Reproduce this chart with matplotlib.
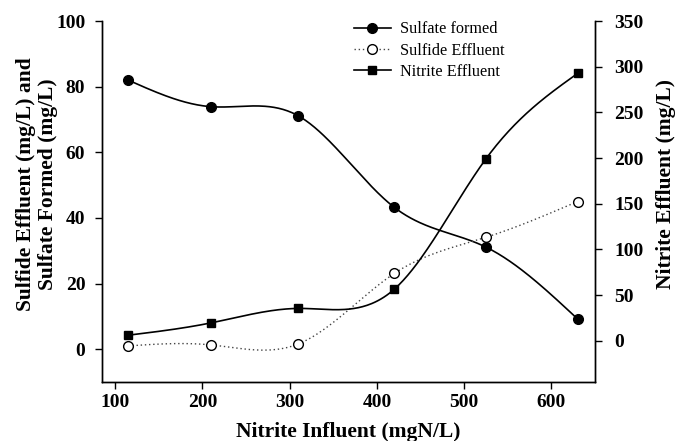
import numpy as np
import matplotlib
matplotlib.use('Agg')
import matplotlib.pyplot as plt

# Nitrite influent levels (mgN/L)
nitrite_influent = [115, 210, 310, 420, 525, 630]

# Left axis series (mg/L)
sulfate_formed = [82.0, 73.9, 71.1, 43.2, 31.1, 9.2]
sulfide_effluent = [1.0, 1.3, 1.6, 23.1, 34.1, 45.0]

# Right axis series (mg/L)
nitrite_effluent = [6.2, 19.7, 35.5, 56.6, 199.3, 292.7]


def natural_spline(x, y, n=300):
    # Natural cubic spline through the points, used to draw smooth connecting lines
    x = np.asarray(x, float)
    y = np.asarray(y, float)
    k = len(x)
    h = np.diff(x)
    A = np.zeros((k, k))
    b = np.zeros(k)
    A[0, 0] = A[-1, -1] = 1.0
    for i in range(1, k - 1):
        A[i, i - 1] = h[i - 1]
        A[i, i] = 2 * (h[i - 1] + h[i])
        A[i, i + 1] = h[i]
        b[i] = 6 * ((y[i + 1] - y[i]) / h[i] - (y[i] - y[i - 1]) / h[i - 1])
    M = np.linalg.solve(A, b)
    xs = np.linspace(x[0], x[-1], n)
    idx = np.clip(np.searchsorted(x, xs) - 1, 0, k - 2)
    x0, x1 = x[idx], x[idx + 1]
    hh = x1 - x0
    t0, t1 = x1 - xs, xs - x0
    ys = (M[idx] * t0 ** 3 + M[idx + 1] * t1 ** 3) / (6 * hh) \
        + (y[idx] / hh - M[idx] * hh / 6) * t0 \
        + (y[idx + 1] / hh - M[idx + 1] * hh / 6) * t1
    return xs, ys


plt.rcParams['font.family'] = 'Liberation Serif'

fig = plt.figure(figsize=(6.77, 4.41), dpi=100)
ax = fig.add_axes([0.1507, 0.1338, 0.7283, 0.8185])
ax2 = ax.twinx()

# Sulfate formed: solid line, filled circles
sx, sy = natural_spline(nitrite_influent, sulfate_formed)
ax.plot(sx, sy, color='black', lw=1.2)
ax.plot(nitrite_influent, sulfate_formed, 'o', color='black', ms=7)

# Sulfide effluent: dotted line, open circles
dx, dy = natural_spline(nitrite_influent, sulfide_effluent)
ax.plot(dx, dy, color='#444444', lw=1.0, ls=(0, (1, 2)))
ax.plot(nitrite_influent, sulfide_effluent, 'o', mfc='white', mec='black',
        mew=1.0, ms=7)

# Nitrite effluent on the secondary axis: solid line, filled squares
nx, ny = natural_spline(nitrite_influent, nitrite_effluent)
ax2.plot(nx, ny, color='black', lw=1.2)
ax2.plot(nitrite_influent, nitrite_effluent, 's', color='black', ms=6)

ax.set_xlim(85, 650)
ax.set_ylim(-10, 100)
ax2.set_ylim(-45, 350)

ax.set_xticks([100, 200, 300, 400, 500, 600])
ax.set_yticks([0, 20, 40, 60, 80, 100])
ax2.set_yticks([0, 50, 100, 150, 200, 250, 300, 350])

for a in (ax, ax2):
    a.spines['top'].set_visible(False)
    for s in a.spines.values():
        s.set_linewidth(1.0)
    a.tick_params(direction='out', length=5, width=1.0, labelsize=14)
    for lbl in a.get_xticklabels() + a.get_yticklabels():
        lbl.set_fontweight('bold')
ax.tick_params(axis='x', pad=4)
ax.tick_params(axis='y', pad=7)
ax2.tick_params(axis='y', pad=9)

ax.set_xlabel('Nitrite Influent (mgN/L)', fontsize=15.5, fontweight='bold')
ax.xaxis.set_label_coords(0.5, -0.112)
ax.set_ylabel('Sulfide Effluent (mg/L) and\nSulfate Formed (mg/L)', fontsize=15.5,
              fontweight='bold', linespacing=1.08)
ax.yaxis.set_label_coords(-0.09, 0.548)
ax2.set_ylabel('Nitrite Effluent (mg/L)', fontsize=15.5, fontweight='bold',
               rotation=90)
ax2.yaxis.set_label_coords(1.124, 0.548)

handles = [
    plt.Line2D([], [], color='black', lw=1.2, marker='o', ms=7),
    plt.Line2D([], [], color='#444444', lw=1.0, ls=(0, (1, 2)), marker='o',
               mfc='white', mec='black', ms=7),
    plt.Line2D([], [], color='black', lw=1.2, marker='s', ms=6),
]
fig.legend(handles, ['Sulfate formed', 'Sulfide Effluent', 'Nitrite Effluent'],
           loc='upper left', bbox_to_anchor=(0.5007, 0.985), frameon=False,
           fontsize=11.7, handlelength=2.3, handletextpad=0.55, labelspacing=0.33)

fig.savefig('out.png', dpi=100)
